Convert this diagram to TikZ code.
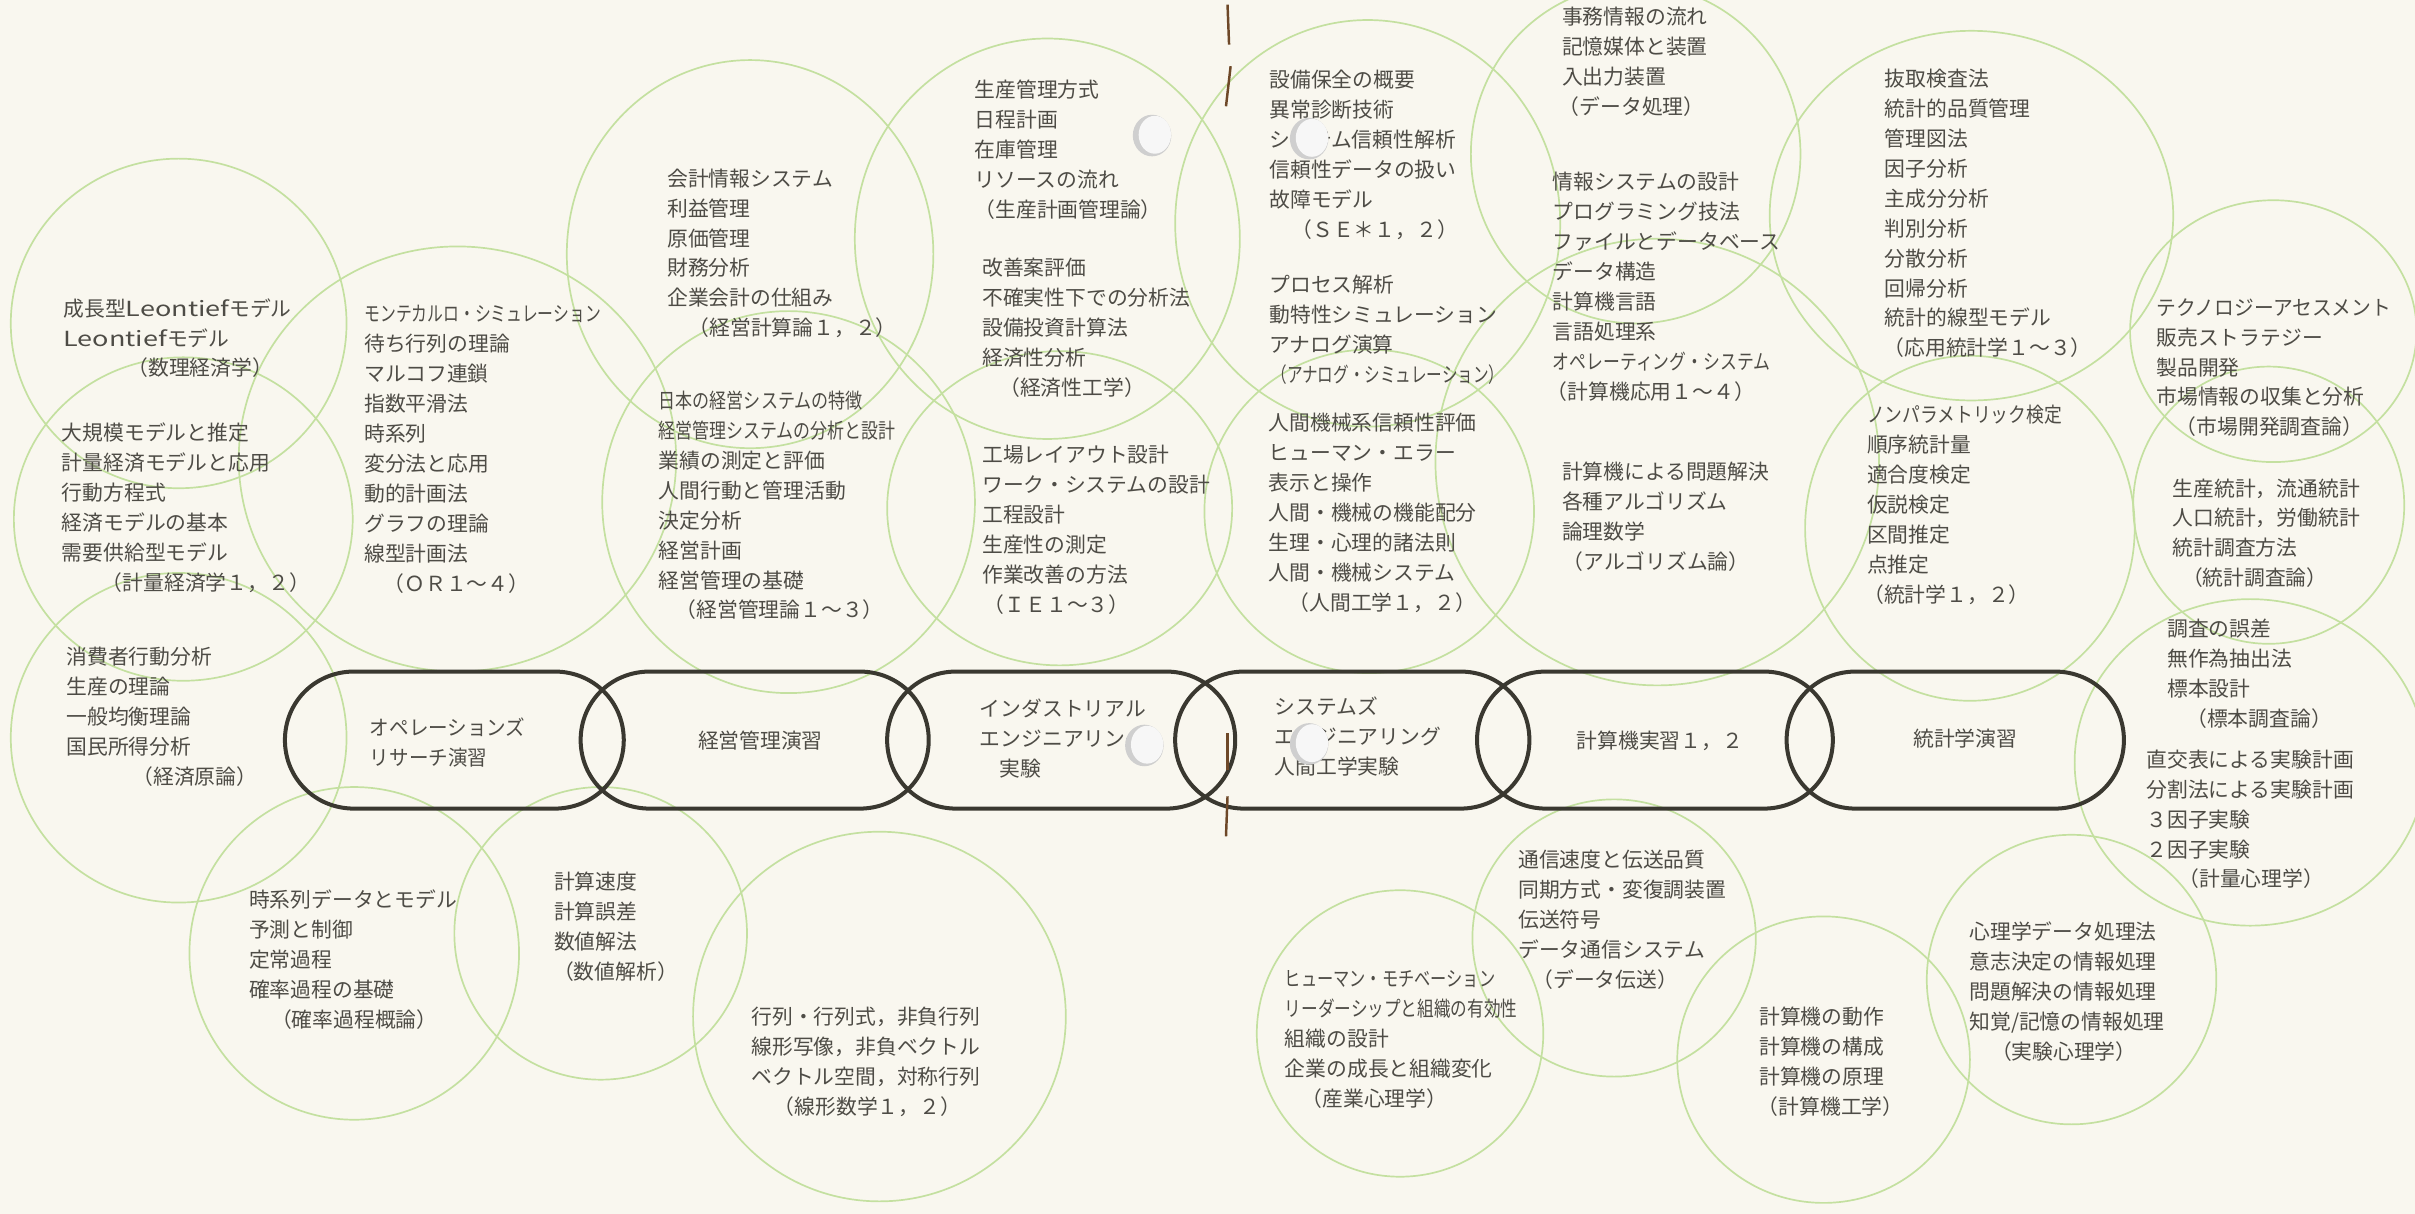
\documentclass[tikz,border=0pt]{standalone}
\usepackage{graphicx}
\usepackage{fontspec}
\newfontfamily\jp{Noto Sans CJK JP}
\definecolor{paper}{RGB}{249,247,239}
\definecolor{ring}{RGB}{196,224,160}
\definecolor{ink}{RGB}{78,76,70}
\definecolor{capline}{RGB}{58,56,48}
\definecolor{spine}{RGB}{110,72,40}
\tikzset{
  circ/.style={draw=ring, line width=1.1pt},
  caps/.style={draw=capline, line width=2.6pt, line join=round},
  blk/.style={font=\jp\fontsize{13.5}{19.45}\selectfont, text=ink, align=left, inner sep=0pt, anchor=north west},
  ctext/.style={font=\jp\fontsize{13.5}{19.45}\selectfont, text=ink, align=left, inner sep=0pt, anchor=north west},
  holeedge/.style={fill=gray!38},
  holeface/.style={fill=white!94!gray},
  spinemark/.style={draw=spine, line width=1.6pt}
}
\newcommand{\capind}[1]{\hspace*{#1pt}}
\newcommand{\sq}[2]{\scalebox{#1}[1]{#2}}
\begin{document}
\begin{tikzpicture}[x=1pt,y=-1pt]
\fill[paper] (0,0) rectangle (1568,788);
\useasboundingbox (0,0) rectangle (1568,788);

% ---- green rings ----
\draw[circ] (116,210) ellipse [x radius=109, y radius=107];
\draw[circ] (119,337) ellipse [x radius=110, y radius=105];
\draw[circ] (116,479) ellipse [x radius=109, y radius=107];
\draw[circ] (297,298) ellipse [x radius=142, y radius=138];
\draw[circ] (487,165) ellipse [x radius=119, y radius=126];
\draw[circ] (512,326) ellipse [x radius=121, y radius=124];
\draw[circ] (680,155) ellipse [x radius=125, y radius=130];
\draw[circ] (688,330) ellipse [x radius=112, y radius=102];
\draw[circ] (888,145) ellipse [x radius=125, y radius=132];
\draw[circ] (889,332) ellipse [x radius=107, y radius=105];
\draw[circ] (1062,100) ellipse [x radius=107, y radius=110];
\draw[circ] (1076,300) ellipse [x radius=144, y radius=145];
\draw[circ] (1280,140) ellipse [x radius=131, y radius=120];
\draw[circ] (1279,343) ellipse [x radius=107, y radius=112];
\draw[circ] (1476,215) ellipse [x radius=93, y radius=85];
\draw[circ] (1473,328) ellipse [x radius=88, y radius=90];
\draw[circ] (1461,495) ellipse [x radius=114, y radius=106];
\draw[circ] (230,619) ellipse [x radius=107, y radius=108];
\draw[circ] (390,606) ellipse [x radius=95, y radius=95];
\draw[circ] (571,660) ellipse [x radius=121, y radius=120];
\draw[circ] (909,671) ellipse [x radius=93, y radius=93];
\draw[circ] (1048,609) ellipse [x radius=92, y radius=90];
\draw[circ] (1184,688) ellipse [x radius=95, y radius=93];
\draw[circ] (1345,636) ellipse [x radius=94, y radius=94];

% ---- capsules (top 436, bottom 525, end radius 45) ----
\foreach \L/\R in {185/405, 377/603, 576/802, 763/993, 959/1190, 1160/1379}{
  \draw[caps] ({\L+45},436) -- ({\R-45},436)
    .. controls ({\R-45+25.5},436) and (\R,{480.5-24.8}) .. (\R,480.5)
    .. controls (\R,{480.5+24.8}) and ({\R-45+25.5},525) .. ({\R-45},525)
    -- ({\L+45},525)
    .. controls ({\L+45-25.5},525) and (\L,{480.5+24.8}) .. (\L,480.5)
    .. controls (\L,{480.5-24.8}) and ({\L+45-25.5},436) .. ({\L+45},436) -- cycle;
}

% ---- capsule texts ----
\node[ctext] (p1) at (240,466) {\sq{0.94}{オペレーションズ}\\\sq{0.94}{リサーチ演習}};
\node[ctext] (p2) at (453,474.5) {経営管理演習};
\node[ctext] (p3) at (636,453.5) {インダストリアル\\エンジニアリング\\\capind{12.6}実験};
\node[ctext] (p4) at (827.5,452.5) {システムズ\\エンジニアリング\\人間工学実験};
\node[ctext] (p5) at (1023.5,474.5) {計算機実習１，２};
\node[ctext] (p6) at (1242,473) {統計学演習};

% ---- text blocks ----
\node[blk] (b1) at (41,193.5) {成長型\sq{1.3}{Leontief}モデル\\\sq{1.3}{Leontief}モデル\\\capind{41.6}（数理経済学）};
\node[blk] (b2) at (40,274.5) {大規模モデルと推定\\計量経済モデルと応用\\行動方程式\\経済モデルの基本\\需要供給型モデル\\\capind{26}（計量経済学１，２）};
\node[blk] (b3) at (43,419.8) {消費者行動分析\\生産の理論\\一般均衡理論\\国民所得分析\\\capind{42.8}（経済原論）};
\node[blk] (b4) at (236.4,198) {\sq{0.76}{モンテカルロ・シミュレーション}\\待ち行列の理論\\マルコフ連鎖\\指数平滑法\\時系列\\変分法と応用\\動的計画法\\グラフの理論\\線型計画法\\\capind{12.6}（ＯＲ１～４）};
\node[blk] (b5) at (433,109.3) {会計情報システム\\利益管理\\原価管理\\財務分析\\企業会計の仕組み\\\capind{14}（経営計算論１，２）};
\node[blk] (b6) at (427.5,253.5) {\sq{0.82}{日本の経営システムの特徴}\\\sq{0.815}{経営管理システムの分析と設計}\\業績の測定と評価\\人間行動と管理活動\\決定分析\\経営計画\\経営管理の基礎\\\capind{11}（経営管理論１～３）};
\node[blk] (b7) at (632.6,51.9) {生産管理方式\\日程計画\\在庫管理\\リソースの流れ\\（生産計画管理論）};
\node[blk] (b8) at (637.6,167.5) {改善案評価\\不確実性下での分析法\\設備投資計算法\\経済性分析\\\capind{11}（経済性工学）};
\node[blk] (b9) at (637.6,288.9) {工場レイアウト設計\\ワーク・システムの設計\\工程設計\\生産性の測定\\作業改善の方法\\\capind{1}（ＩＥ１～３）};
\node[blk] (b10) at (824,45.4) {設備保全の概要\\異常診断技術\\システム信頼性解析\\信頼性データの扱い\\故障モデル\\\capind{14.3}（ＳＥ＊１，２）};
\node[blk] (b11) at (824,178.5) {プロセス解析\\動特性シミュレーション\\アナログ演算\\\capind{1.3}\sq{0.75}{（アナログ・シミュレーション）}};
\node[blk] (b12) at (823.5,268) {人間機械系信頼性評価\\ヒューマン・エラー\\表示と操作\\人間・機械の機能配分\\生理・心理的諸法則\\人間・機械システム\\\capind{13}（人間工学１，２）};
\node[blk] (b13) at (1014,4.5) {事務情報の流れ\\記憶媒体と装置\\入出力装置\\\capind{-2}（データ処理）};
\node[blk] (b14) at (1008,111.5) {情報システムの設計\\プログラミング技法\\ファイルとデータベース\\データ構造\\計算機言語\\言語処理系\\\sq{0.81}{オペレーティング・システム}\\\capind{-3.8}（計算機応用１～４）};
\node[blk] (b15) at (1014,299.5) {計算機による問題解決\\各種アルゴリズム\\論理数学\\\capind{0.6}（アルゴリズム論）};
\node[blk] (b16) at (1223.6,44.5) {抜取検査法\\統計的品質管理\\管理図法\\因子分析\\主成分分析\\判別分析\\分散分析\\回帰分析\\統計的線型モデル\\\capind{-0.8}（応用統計学１～３）};
\node[blk] (b17) at (1212,262.9) {\sq{0.855}{ノンパラメトリック検定}\\順序統計量\\適合度検定\\仮説検定\\区間推定\\点推定\\\capind{-2.4}（統計学１，２）};
\node[blk] (b18) at (1400,193.5) {\sq{0.95}{テクノロジーアセスメント}\\販売ストラテジー\\製品開発\\市場情報の収集と分析\\\capind{12.6}（市場開発調査論）};
\node[blk] (b19) at (1410.5,310.5) {生産統計，流通統計\\人口統計，労働統計\\統計調査方法\\\capind{6}（統計調査論）};
\node[blk] (b20) at (1407,401.5) {調査の誤差\\無作為抽出法\\標本設計\\\capind{12.3}（標本調査論）};
\node[blk] (b21) at (1393.5,486.5) {直交表による実験計画\\分割法による実験計画\\３因子実験\\２因子実験\\\capind{20.8}（計量心理学）};
\node[blk] (b22) at (161.5,577.5) {時系列データとモデル\\予測と制御\\定常過程\\確率過程の基礎\\\capind{14.3}（確率過程概論）};
\node[blk] (b23) at (359.6,565.9) {計算速度\\計算誤差\\数値解法\\\capind{-0.7}（数値解析）};
\node[blk] (b24) at (487.8,653.5) {行列・行列式，非負行列\\線形写像，非負ベクトル\\ベクトル空間，対称行列\\\capind{14.5}（線形数学１，２）};
\node[blk] (b25) at (834,629.8) {\sq{0.78}{ヒューマン・モチベーション}\\\sq{0.80}{リーダーシップと組織の有効性}\\組織の設計\\企業の成長と組織変化\\\capind{11}（産業心理学）};
\node[blk] (b26) at (985.6,551.9) {通信速度と伝送品質\\同期方式・変復調装置\\伝送符号\\データ通信システム\\\capind{9.2}（データ伝送）};
\node[blk] (b27) at (1142,653.5) {計算機の動作\\計算機の構成\\計算機の原理\\\capind{-0.8}（計算機工学）};
\node[blk] (b28) at (1278.5,598.4) {心理学データ処理法\\意志決定の情報処理\\問題解決の情報処理\\知覚/記憶の情報処理\\\capind{14}（実験心理学）};

% ---- binding marks and punch holes ----
\draw[spinemark] (797,3) -- (798,29);
\draw[spinemark] (799,43) -- (796,69);
\draw[spinemark] (797,476) -- (797,500);
\draw[spinemark] (797,517) -- (796,543);
\foreach \hx/\hy in {748/88, 850/90, 743/484, 850/483}{
  \fill[holeedge] (\hx,\hy) ellipse [x radius=12.5, y radius=13.5];
  \fill[holeface] ({\hx+1.8},{\hy-0.5}) ellipse [x radius=10.5, y radius=12.3];
}
\end{tikzpicture}
\end{document}
